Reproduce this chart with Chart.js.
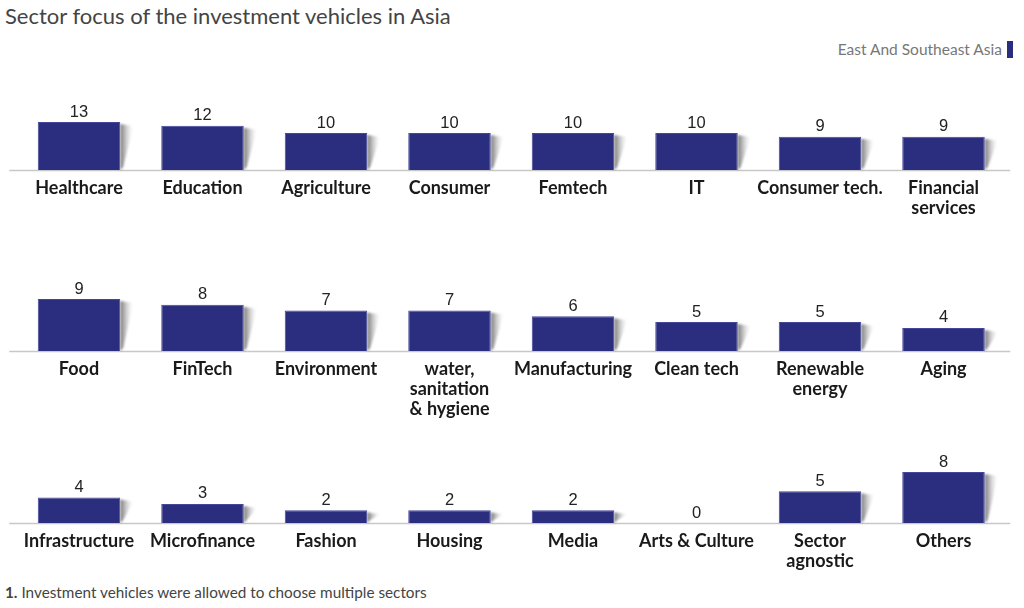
<!DOCTYPE html>
<html lang="en">
<head>
<meta charset="UTF-8">
<title>Sector focus of the investment vehicles in Asia</title>
<script src="https://cdn.jsdelivr.net/npm/chart.js"></script>
<style>
    body {
        margin: 0;
        width: 1024px;
        height: 608px;
        background: #fff;
        position: relative;
        overflow: hidden;
        font-family: Lato, "Open Sans", sans-serif;
    }
    h1 {
        position: absolute;
        left: 5px;
        top: 2px;
        margin: 0;
        font-size: 22px;
        font-weight: 400;
        color: #444;
    }
    .legend {
        position: absolute;
        right: 11px;
        top: 40px;
        font-size: 15.5px;
        color: #777;
        display: flex;
        align-items: center;
    }
    .legend span.box {
        display: inline-block;
        width: 6px;
        height: 17px;
        background: #2b2d7f;
        margin-left: 5px;
    }
    canvas {
        position: absolute;
        left: 0;
    }
    .note {
        position: absolute;
        left: 5px;
        top: 583px;
        font-size: 15.3px;
        color: #444;
    }
</style>
</head>
<body>
<h1>Sector focus of the investment vehicles in Asia</h1>
<div class="legend">East And Southeast Asia<span class="box"></span></div>
<canvas id="row1" width="1024" height="150" style="top:90px"></canvas>
<canvas id="row2" width="1024" height="164" style="top:267px"></canvas>
<canvas id="row3" width="1024" height="143" style="top:440px"></canvas>
<div class="note"><b>1.</b> Investment vehicles were allowed to choose multiple sectors</div>

<script>
    const seriesName = 'East And Southeast Asia';

    const sectorsRow1 = ['Healthcare', 'Education', 'Agriculture', 'Consumer', 'Femtech', 'IT', 'Consumer tech.', ['Financial', 'services']];
    const valuesRow1 = [13, 12, 10, 10, 10, 10, 9, 9];

    const sectorsRow2 = ['Food', 'FinTech', 'Environment', ['water,', 'sanitation', '& hygiene'], 'Manufacturing', 'Clean tech', ['Renewable', 'energy'], 'Aging'];
    const valuesRow2 = [9, 8, 7, 7, 6, 5, 5, 4];

    const sectorsRow3 = ['Infrastructure', 'Microfinance', 'Fashion', 'Housing', 'Media', 'Arts & Culture', ['Sector', 'agnostic'], 'Others'];
    const valuesRow3 = [4, 3, 2, 2, 2, 0, 5, 8];

    const barColor = '#2b2d7f';

    // shadow behind each bar, baseline and value labels
    const decorPlugin = {
        id: 'decor',
        beforeDatasetsDraw(chart) {
            const ctx = chart.ctx;
            const area = chart.chartArea;
            ctx.save();
            ctx.strokeStyle = '#c8c8c8';
            ctx.lineWidth = 1.5;
            ctx.beginPath();
            ctx.moveTo(area.left - 8, area.bottom + 0.5);
            ctx.lineTo(area.right + 5, area.bottom + 0.5);
            ctx.stroke();

            chart.getDatasetMeta(0).data.forEach(bar => {
                const h = bar.base - bar.y;
                if (h <= 0) return;
                const r = bar.x + bar.width / 2;
                const g = ctx.createLinearGradient(r, 0, r + 13, 0);
                g.addColorStop(0, 'rgba(70,70,70,0.75)');
                g.addColorStop(0.5, 'rgba(140,140,140,0.4)');
                g.addColorStop(1, 'rgba(210,210,210,0)');
                ctx.filter = 'blur(1.2px)';
                ctx.fillStyle = g;
                ctx.beginPath();
                ctx.moveTo(r, bar.y + 2);
                ctx.lineTo(r + 13, bar.y + 4);
                ctx.lineTo(r + 3, bar.base - 3);
                ctx.lineTo(r, bar.base);
                ctx.closePath();
                ctx.fill();
                ctx.filter = 'none';
            });
            ctx.restore();
        },
        afterDatasetsDraw(chart) {
            const ctx = chart.ctx;
            const ds = chart.data.datasets[0];
            ctx.save();
            ctx.font = '16.5px "Liberation Sans", Arial, sans-serif';
            ctx.fillStyle = '#222';
            ctx.textAlign = 'center';
            ctx.textBaseline = 'middle';
            chart.getDatasetMeta(0).data.forEach((bar, i) => {
                ctx.fillText(ds.data[i], bar.x, bar.y - 10);
            });
            ctx.restore();
        }
    };

    function makeRow(id, labels, values, axisHeight) {
        const max = Math.max(...values);
        new Chart(document.getElementById(id), {
            type: 'bar',
            data: {
                labels: labels,
                datasets: [{
                    label: seriesName,
                    data: values,
                    backgroundColor: barColor,
                    borderColor: '#44469a',
                    borderWidth: 1,
                    borderSkipped: 'bottom',
                    barPercentage: 0.668,
                    categoryPercentage: 1
                }]
            },
            options: {
                responsive: false,
                animation: false,
                layout: { padding: { top: 32, left: 17.25, right: 18.75, bottom: 0 } },
                plugins: {
                    legend: { display: false },
                    tooltip: { enabled: false }
                },
                scales: {
                    x: {
                        grid: { display: false },
                        border: { display: false },
                        ticks: {
                            color: '#1a1a1a',
                            padding: 0,
                            maxRotation: 0,
                            autoSkip: false,
                            font: { family: 'Lato', size: 18, weight: 'bold', lineHeight: 1.12 }
                        },
                        afterFit(scale) { scale.height = axisHeight; }
                    },
                    y: {
                        display: false,
                        min: 0,
                        max: max
                    }
                }
            },
            plugins: [decorPlugin]
        });
    }

    makeRow('row1', sectorsRow1, valuesRow1, 70);
    makeRow('row2', sectorsRow2, valuesRow2, 80);
    makeRow('row3', sectorsRow3, valuesRow3, 60);
</script>
</body>
</html>
